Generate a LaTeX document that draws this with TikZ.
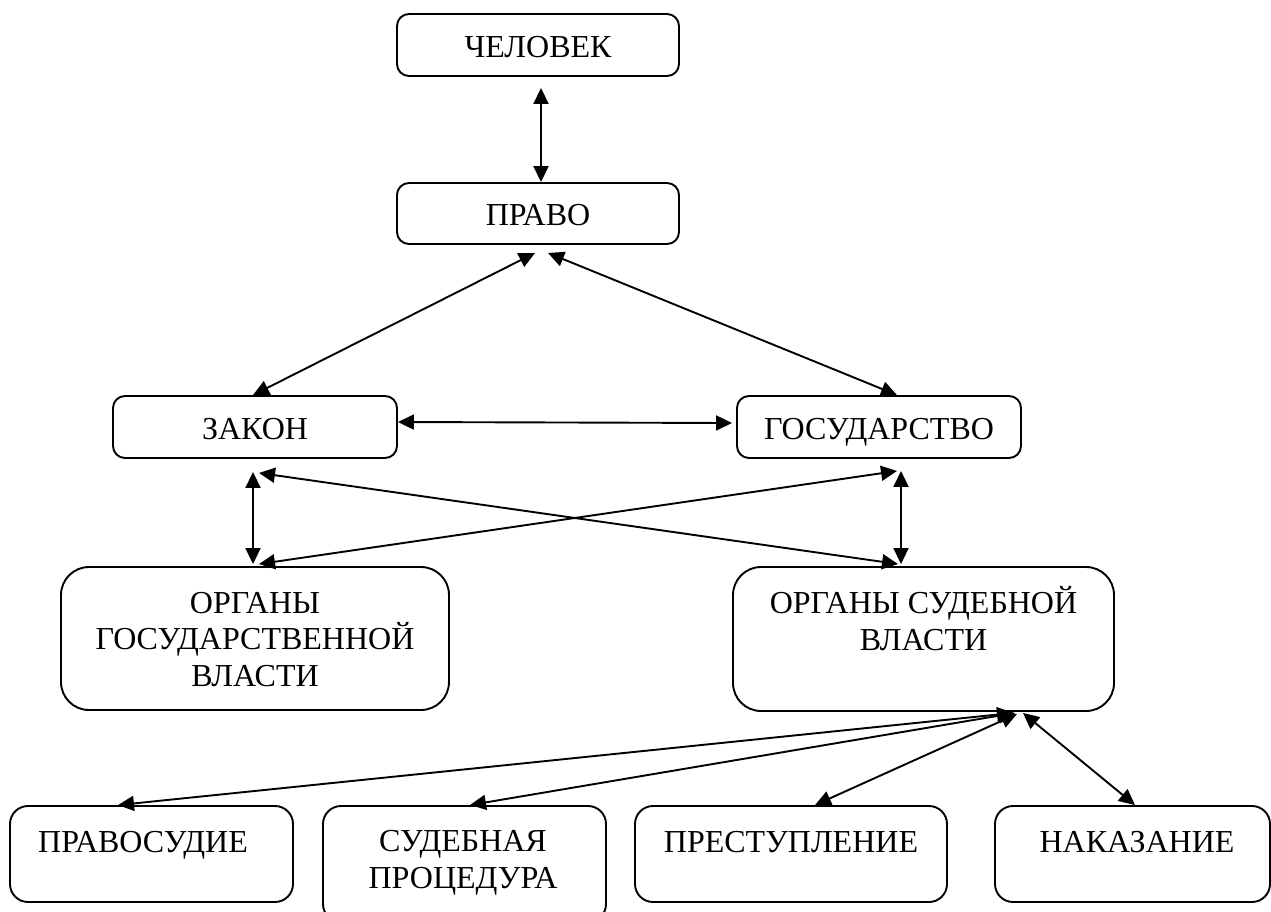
\documentclass[tikz,border=0pt]{standalone}
\usepackage{fontspec}
\setmainfont{Liberation Serif}
\usetikzlibrary{arrows.meta}
\tikzset{
  box/.style={draw, line width=1.9pt, rounded corners=12pt, inner sep=0pt, anchor=center},
  bigbox/.style={box, rounded corners=28pt},
  lowbox/.style={box, rounded corners=18pt},
  txt/.style={inner sep=0pt, anchor=base, font=\fontsize{32}{36.5}\selectfont, align=center},
  link/.style={line width=1.9pt, {Triangle[length=16pt,width=15pt]}-{Triangle[length=16pt,width=15pt]}}
}
\begin{document}
\begin{tikzpicture}[x=1pt,y=-1pt]
\useasboundingbox (0,0) rectangle (1271,911);
% boxes
\node[box, minimum width=282pt, minimum height=62pt] (chel) at (538,45) {};
\node[box, minimum width=282pt, minimum height=61pt] (pravo) at (538,213.5) {};
\node[box, minimum width=284pt, minimum height=62pt] (zakon) at (255,427) {};
\node[box, minimum width=284pt, minimum height=62pt] (gos) at (879,427) {};
\node[bigbox, minimum width=388pt, minimum height=143pt] (organg) at (255,638.5) {};
\node[bigbox, minimum width=381pt, minimum height=144pt] (orgsud) at (923.5,639) {};
\node[lowbox, minimum width=283pt, minimum height=96pt] (pravos) at (151.5,854) {};
\node[lowbox, minimum width=283pt, minimum height=116pt] (sudpr) at (464.5,864) {};
\node[lowbox, minimum width=312pt, minimum height=96pt] (prest) at (791,854) {};
\node[lowbox, minimum width=275pt, minimum height=96pt] (nakaz) at (1132.5,854) {};
% texts (anchor base = baseline of the last line)
\node[txt] (chelT) at (538,57) {ЧЕЛОВЕК};
\node[txt] (pravoT) at (538,225) {ПРАВО};
\node[txt] (zakonT) at (255,439) {ЗАКОН};
\node[txt] (gosT) at (879,439) {ГОСУДАРСТВО};
\node[txt] (organgT) at (255,686) {ОРГАНЫ\\ГОСУДАРСТВЕННОЙ\\ВЛАСТИ};
\node[txt] (orgsudT) at (923.5,650) {ОРГАНЫ СУДЕБНОЙ\\ВЛАСТИ};
\node[txt] (pravosT) at (143,852) {ПРАВОСУДИЕ};
\node[txt] (sudprT) at (463,888) {СУДЕБНАЯ\\ПРОЦЕДУРА};
\node[txt] (prestT) at (791,852) {ПРЕСТУПЛЕНИЕ};
\node[txt] (nakazT) at (1137,852) {НАКАЗАНИЕ};
% connectors
\draw[link] ([xshift=3pt,yshift=-11pt]chel.south) -- ([xshift=3pt]pravo.north);
\draw[link] ([xshift=-3pt,yshift=-8pt]pravo.south) -- ([xshift=-2pt]zakon.north);
\draw[link] ([xshift=10pt,yshift=-8pt]pravo.south) -- ([xshift=18pt]gos.north);
\draw[link] ([yshift=5pt]zakon.east) -- ([xshift=-4pt,yshift=4pt]gos.west);
\draw[link] ([xshift=-2pt,yshift=-13pt]zakon.south) -- ([xshift=-2pt,yshift=2pt]organg.north);
\draw[link] ([xshift=22pt,yshift=-12pt]gos.south) -- ([xshift=-22.5pt,yshift=2pt]orgsud.north);
\draw[link] ([xshift=4pt,yshift=-14pt]zakon.south) -- ([xshift=-25.5pt,yshift=2pt]orgsud.north);
\draw[link] ([xshift=18pt,yshift=-12pt]gos.south) -- ([xshift=4pt,yshift=2pt]organg.north);
\draw[link] ([xshift=89.5pt,yshift=-1pt]orgsud.south) -- ([xshift=-33.5pt]pravos.north);
\draw[link] ([xshift=91.5pt,yshift=-1pt]orgsud.south) -- ([xshift=5.5pt]sudpr.north);
\draw[link] ([xshift=93.5pt,yshift=-2pt]orgsud.south) -- ([xshift=24pt]prest.north);
\draw[link] ([xshift=99.5pt,yshift=-1pt]orgsud.south) -- ([xshift=2.5pt]nakaz.north);
\end{tikzpicture}
\end{document}
